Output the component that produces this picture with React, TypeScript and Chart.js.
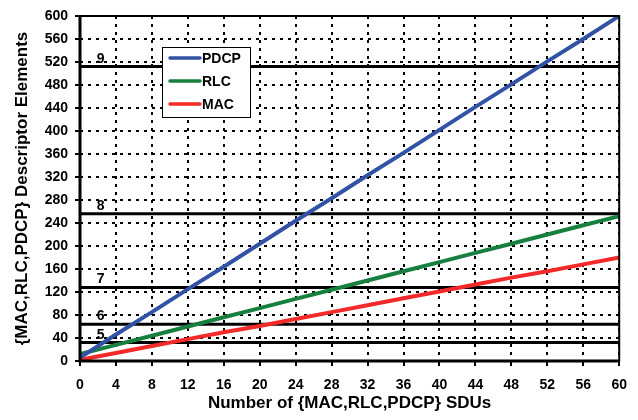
import React, { useEffect, useRef } from 'react';
import { Chart, registerables } from 'chart.js';

Chart.register(...registerables);

const sduCounts = [0, 4, 8, 12, 16, 20, 24, 28, 32, 36, 40, 44, 48, 52, 56, 60];
const pdcpElements = [6, 46, 85, 125, 164, 204, 244, 283, 323, 362, 402, 442, 481, 521, 560, 600];
const rlcElements = [12, 28, 44, 60, 76, 92, 108, 124, 140, 156, 172, 188, 204, 220, 236, 252];
const macElements = [2, 14, 26, 38, 50, 61, 73, 85, 97, 109, 121, 133, 145, 156, 168, 180];
const seriesNames = ['PDCP', 'RLC', 'MAC'];
const seriesColors = ['#3152a5', '#17803e', '#f42a2a'];
const levelValues = [32, 64, 128, 256, 512];
const levelLabels = ['5', '6', '7', '8', '9'];
const levelLabelX = 2.3;
const xAxisTitle = 'Number of {MAC,RLC,PDCP} SDUs';
const yAxisTitle = '{MAC,RLC,PDCP} Descriptor Elements';
const xMin = 0, xMax = 60, xStep = 4;
const yMin = 0, yMax = 600, yStep = 40;

const FONT = 'Arial, "Liberation Sans", Helvetica, sans-serif';

const overlayPlugin = {
  id: 'overlay',
  afterDatasetsDraw(chart: any) {
    const { ctx, chartArea, scales } = chart;
    const { left, right, top, bottom } = chartArea;
    ctx.save();
    // frame
    ctx.strokeStyle = '#000';
    ctx.lineWidth = 2;
    ctx.setLineDash([]);
    ctx.strokeRect(left, top, right - left, bottom - top);
    ctx.lineWidth = 3;
    ctx.beginPath();
    ctx.moveTo(left, top);
    ctx.lineTo(left, bottom);
    ctx.lineTo(right, bottom);
    ctx.stroke();

    // level labels
    ctx.fillStyle = '#000';
    ctx.font = `bold 14px ${FONT}`;
    ctx.textAlign = 'center';
    ctx.textBaseline = 'alphabetic';
    levelValues.forEach((v, i) => {
      const px = scales.x.getPixelForValue(levelLabelX);
      const py = scales.y.getPixelForValue(v);
      ctx.fillText(levelLabels[i], px, py - 4);
    });

    // legend box
    const bx = left + 82, by = top + 31, bw = 88, bh = 70;
    ctx.fillStyle = '#fff';
    ctx.fillRect(bx, by, bw, bh);
    ctx.strokeStyle = '#000';
    ctx.lineWidth = 1;
    ctx.strokeRect(bx + 0.5, by + 0.5, bw, bh);
    ctx.font = `bold 14px ${FONT}`;
    ctx.textAlign = 'left';
    ctx.textBaseline = 'middle';
    seriesNames.forEach((name, i) => {
      const ry = by + 11 + i * 23;
      ctx.strokeStyle = chart.data.datasets[i].borderColor;
      ctx.lineWidth = 3.5;
      ctx.lineCap = 'round';
      ctx.beginPath();
      ctx.moveTo(bx + 8, ry);
      ctx.lineTo(bx + 38, ry);
      ctx.stroke();
      ctx.fillStyle = '#000';
      ctx.fillText(name, bx + 40, ry + 1);
    });
    ctx.restore();
  },
};

export default function App() {
  const ref = useRef<HTMLCanvasElement | null>(null);

  useEffect(() => {
    if (!ref.current) return;
    const seriesData = [pdcpElements, rlcElements, macElements];
    const datasets: any[] = seriesData.map((vals, i) => ({
      label: seriesNames[i],
      data: sduCounts.map((x, j) => ({ x, y: vals[j] })),
      borderColor: seriesColors[i],
      backgroundColor: seriesColors[i],
      borderWidth: 4,
      pointRadius: 0,
      fill: false,
      tension: 0,
    }));
    levelValues.forEach((v, i) => {
      datasets.push({
        label: 'level ' + levelLabels[i],
        data: [
          { x: sduCounts[0], y: v },
          { x: sduCounts[sduCounts.length - 1], y: v },
        ],
        borderColor: '#000',
        backgroundColor: '#000',
        borderWidth: 3,
        pointRadius: 0,
        fill: false,
      });
    });

    const chart = new Chart(ref.current, {
      type: 'line',
      data: { datasets },
      options: {
        animation: false,
        responsive: false,
        maintainAspectRatio: false,
        layout: { padding: { left: 0, top: 16, right: 18, bottom: 0 } },
        plugins: { legend: { display: false }, tooltip: { enabled: false } },
        scales: {
          x: {
            type: 'linear',
            min: xMin,
            max: xMax,
            afterFit: (s: any) => { s.height = 59; },
            ticks: {
              stepSize: xStep,
              color: '#000',
              padding: 11,
              font: { family: FONT, size: 14, weight: 'bold' },
              maxRotation: 0,
            },
            grid: {
              color: '#000',
              lineWidth: 2,
              tickLength: 5,
              tickWidth: 2,
              tickBorderDash: [],
            },
            border: { display: false, dash: [3, 5] },
            title: {
              display: true,
              text: xAxisTitle,
              color: '#000',
              font: { family: FONT, size: 17, weight: 'bold' },
              padding: { top: 0, bottom: 6 },
            },
          },
          y: {
            type: 'linear',
            min: yMin,
            max: yMax,
            afterFit: (s: any) => { s.width = 80; },
            ticks: {
              stepSize: yStep,
              color: '#000',
              padding: 7,
              font: { family: FONT, size: 14, weight: 'bold' },
            },
            grid: {
              color: '#000',
              lineWidth: 2,
              tickLength: 5,
              tickWidth: 2,
              tickBorderDash: [],
            },
            border: { display: false, dash: [3, 5] },
            title: {
              display: true,
              text: yAxisTitle,
              color: '#000',
              font: { family: FONT, size: 17, weight: 'bold' },
              padding: { top: 12, bottom: 0 },
            },
          },
        },
      },
      plugins: [overlayPlugin],
    });
    return () => chart.destroy();
  }, []);

  return (
    <div style={{ position: 'absolute', left: 0, top: 0, width: 638, height: 420, background: '#fff' }}>
      <canvas ref={ref} width={638} height={420} />
    </div>
  );
}
